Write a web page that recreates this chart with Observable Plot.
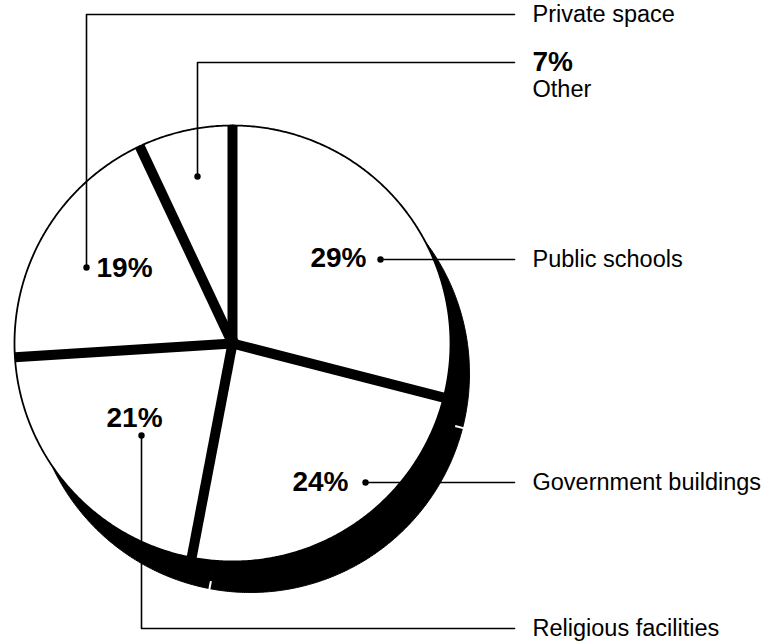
<!DOCTYPE html>
<html>
<head>
<meta charset="utf-8">
<script src="https://cdn.jsdelivr.net/npm/d3@7"></script>
<script src="https://cdn.jsdelivr.net/npm/@observablehq/plot@0.6"></script>
<style>
  html, body { margin: 0; padding: 0; background: #fff; }
  #chart svg { display: block; }
</style>
</head>
<body>
<div id="chart"></div>
<script>
// ---- data ----
const categories = ["Public schools", "Government buildings", "Religious facilities", "Private space", "Other"];
const shares = [29, 24, 21, 19, 7];
const pctLabels = ["29%", "24%", "21%", "19%", "7%"];

// ---- layout (pixels) ----
const W = 769, H = 644;
const CX = 232, CY = 343, R = 218;          // pie centre and radius
const SHADOW = {dx: 18, dy: 30, r: 219};     // 3-D shadow disc
const LABEL_X = 532, LINE_END = 514;
// per category: leader dot, row of the right-hand label, percent label placement
const layout = [
  {dot: [380, 259], row: 259, pct: {x: 366, y: 258, anchor: "end"}},
  {dot: [365, 482], row: 482, pct: {x: 348, y: 482, anchor: "end"}},
  {dot: [141, 435], row: 628, pct: {x: 134, y: 418, anchor: "middle"}},
  {dot: [86, 267],  row: 14,  pct: {x: 96,  y: 268, anchor: "start"}},
  {dot: [197, 176], row: 62,  pct: null}
];

const px = v => (v - CX) / R;
const py = v => (CY - v) / R;

// ---- geometry built from the data ----
const total = d3.sum(shares);
let acc = 0;
const slices = categories.map((c, i) => {
  const a0 = acc / total * 2 * Math.PI;
  acc += shares[i];
  const a1 = acc / total * 2 * Math.PI;
  return {cat: c, a0, a1, share: shares[i]};
});

function arcPoly(s, ox, oy, r) {
  const pts = [{cat: s.cat, x: ox, y: oy}];
  const n = Math.max(8, Math.ceil((s.a1 - s.a0) / (Math.PI / 360)));
  for (let k = 0; k <= n; k++) {
    const a = s.a0 + (s.a1 - s.a0) * k / n;
    pts.push({cat: s.cat, x: ox + r * Math.sin(a), y: oy + r * Math.cos(a)});
  }
  pts.push({cat: s.cat, x: ox, y: oy});
  return pts;
}

const sox = SHADOW.dx / R, soy = -SHADOW.dy / R, sr = SHADOW.r / R;
const slicePts = slices.flatMap(s => arcPoly(s, 0, 0, 1));
const shadowPts = slices.flatMap(s => arcPoly(s, sox, soy, sr));
// small notches where the shadow pieces meet
const shadowGaps = slices.map(s => ({
  x1: sox + 0.965 * sr * Math.sin(s.a0), y1: soy + 0.965 * sr * Math.cos(s.a0),
  x2: sox + 1.03 * sr * Math.sin(s.a0), y2: soy + 1.03 * sr * Math.cos(s.a0)
}));
const separators = slices.map(s => ({x1: 0, y1: 0, x2: Math.sin(s.a0), y2: Math.cos(s.a0)}));

const leaders = layout.flatMap((l, i) => {
  const [dx, dy] = l.dot;
  const pts = [[dx, dy]];
  if (Math.abs(l.row - dy) > 2) pts.push([dx, l.row]);
  pts.push([LINE_END, l.row]);
  return pts.map(p => ({cat: categories[i], x: px(p[0]), y: py(p[1])}));
});
const dots = layout.map((l, i) => ({cat: categories[i], x: px(l.dot[0]), y: py(l.dot[1])}));

const rightLabels = layout.map((l, i) => ({
  text: categories[i] === "Other" ? pctLabels[i] : categories[i],
  bold: categories[i] === "Other",
  x: px(LABEL_X), y: py(l.row)
}));
const otherName = [{text: "Other", x: px(LABEL_X), y: py(89)}];
const pctMarks = layout.map((l, i) => l.pct ? ({text: pctLabels[i], x: px(l.pct.x), y: py(l.pct.y), anchor: l.pct.anchor}) : null).filter(Boolean);

const font = "Liberation Sans, Arial, Helvetica, sans-serif";

const chart = Plot.plot({
  width: W, height: H, margin: 0,
  x: {domain: [px(0), px(W)], axis: null},
  y: {domain: [py(H), py(0)], axis: null},
  style: {background: "#fff"},
  marks: [
    Plot.line(shadowPts, {x: "x", y: "y", z: "cat", fill: "black", stroke: "black", strokeWidth: 1}),
    Plot.link(shadowGaps, {x1: "x1", y1: "y1", x2: "x2", y2: "y2", stroke: "white", strokeWidth: 2}),
    Plot.line(slicePts, {x: "x", y: "y", z: "cat", fill: "white", stroke: "black", strokeWidth: 1.8}),
    Plot.link(separators, {x1: "x1", y1: "y1", x2: "x2", y2: "y2", stroke: "black", strokeWidth: 10, strokeLinecap: "butt"}),
    Plot.dot([{x: 0, y: 0}], {x: "x", y: "y", r: 7, fill: "black"}),
    Plot.line(leaders, {x: "x", y: "y", z: "cat", stroke: "black", strokeWidth: 1.6}),
    Plot.dot(dots, {x: "x", y: "y", r: 3.2, fill: "black"}),
    ...["start", "middle", "end"].map(a =>
      Plot.text(pctMarks.filter(d => d.anchor === a), {x: "x", y: "y", text: "text", textAnchor: a, fontSize: 28, fontWeight: "bold", fontFamily: font, fill: "black"})),
    Plot.text(rightLabels.filter(d => !d.bold), {x: "x", y: "y", text: "text", textAnchor: "start", fontSize: 23.5, fontFamily: font, fill: "black"}),
    Plot.text(rightLabels.filter(d => d.bold), {x: "x", y: "y", text: "text", textAnchor: "start", fontSize: 28, fontWeight: "bold", fontFamily: font, fill: "black"}),
    Plot.text(otherName, {x: "x", y: "y", text: "text", textAnchor: "start", fontSize: 23.5, fontFamily: font, fill: "black"})
  ]
});
document.getElementById("chart").appendChild(chart);
</script>
</body>
</html>
